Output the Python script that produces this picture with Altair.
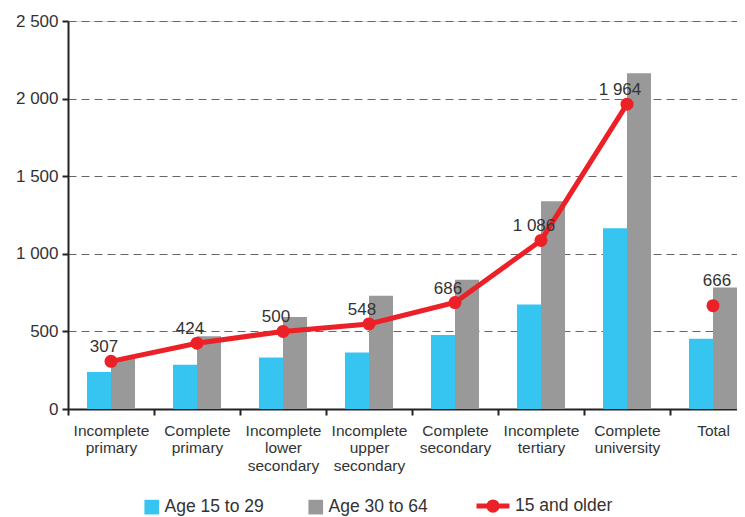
import altair as alt
import pandas as pd

categories = [
    "Incomplete primary",
    "Complete primary",
    "Incomplete lower secondary",
    "Incomplete upper secondary",
    "Complete secondary",
    "Incomplete tertiary",
    "Complete university",
    "Total",
]
age_15_29 = [238, 285, 332, 364, 476, 674, 1165, 453]
age_30_64 = [328, 468, 592, 730, 833, 1339, 2163, 783]
age_15_older = [307, 424, 500, 548, 686, 1086, 1964, 666]
series_names = ["Age 15 to 29", "Age 30 to 64"]
line_name = "15 and older"
y_ticks = [0, 500, 1000, 1500, 2000, 2500]

CYAN = "#36c5f0"
GRAY = "#999999"
RED = "#ec2027"
TEXT = "#333333"
AXIS = "#222222"
FONT = "Liberation Sans"

bars_df = pd.DataFrame(
    [{"category": c, "series": series_names[0], "value": v} for c, v in zip(categories, age_15_29)]
    + [{"category": c, "series": series_names[1], "value": v} for c, v in zip(categories, age_30_64)]
)
line_df = pd.DataFrame({"category": categories, "value": age_15_older, "measure": line_name})

PLOT_W = 669
X_RANGE = 688
PLOT_H = 388

x_enc = alt.X(
    "category:N",
    sort=categories,
    scale=alt.Scale(paddingInner=0, paddingOuter=0, range=[0, X_RANGE]),
    axis=alt.Axis(
        title=None,
        labelAngle=0,
        labelExpr="split(datum.label, ' ')",
        labelFontSize=15.5,
        labelLineHeight=17.5,
        labelColor=TEXT,
        labelFont=FONT,
        labelPadding=8,
        tickBand="extent",
        tickSize=6,
        tickWidth=2,
        tickColor=AXIS,
        domainColor=AXIS,
        domainWidth=2,
        grid=False,
    ),
)
y_enc = alt.Y(
    "value:Q",
    scale=alt.Scale(domain=[0, 2500], nice=False),
    axis=alt.Axis(
        title=None,
        values=y_ticks,
        labelExpr="replace(format(datum.value, ','), ',', ' ')",
        labelFontSize=17,
        labelColor=TEXT,
        labelFont=FONT,
        labelPadding=4,
        tickSize=6,
        tickWidth=2,
        tickColor=AXIS,
        domainColor=AXIS,
        domainWidth=2,
        grid=True,
        gridColor="#666666",
        gridDash=[8, 5],
        gridWidth=1.2,
    ),
)

bars = alt.Chart(bars_df).mark_bar().encode(
    x=x_enc,
    xOffset=alt.XOffset("series:N", sort=series_names,
                        scale=alt.Scale(paddingInner=0, paddingOuter=0.79)),
    y=y_enc,
    fill=alt.Fill(
        "series:N",
        scale=alt.Scale(domain=series_names, range=[CYAN, GRAY]),
        legend=alt.Legend(
            title=None,
            orient="none",
            legendX=75,
            legendY=477,
            direction="horizontal",
            symbolType="square",
            symbolSize=215,
            symbolStrokeWidth=0,
            labelFontSize=17.5,
            labelFont=FONT,
            labelColor=TEXT,
            labelOffset=4,
            columnPadding=43,
            labelLimit=0,
        ),
    ),
)

legend_path = (
    "M-1,0H1"
    "M0.1,0A0.1,0.1,0,1,1,-0.1,0A0.1,0.1,0,1,1,0.1,0"
    "M0.25,0A0.25,0.25,0,1,1,-0.25,0A0.25,0.25,0,1,1,0.25,0"
)

line = alt.Chart(line_df).transform_filter(
    "datum.category != 'Total'"
).mark_line(strokeWidth=5).encode(
    x=alt.X("category:N", sort=categories),
    y=alt.Y("value:Q"),
    stroke=alt.Stroke(
        "measure:N",
        scale=alt.Scale(domain=[line_name], range=[RED]),
        legend=alt.Legend(
            title=None,
            orient="none",
            legendX=406,
            legendY=466,
            direction="horizontal",
            symbolType=legend_path,
            symbolSize=1089,
            symbolStrokeWidth=5,
            symbolStrokeColor=RED,
            labelFontSize=17.5,
            labelFont=FONT,
            labelColor=TEXT,
            labelOffset=3,
            labelLimit=0,
        ),
    ),
)

points = alt.Chart(line_df).mark_circle(size=169, color=RED, opacity=1).encode(
    x=alt.X("category:N", sort=categories),
    y=alt.Y("value:Q"),
)

labels_line = alt.Chart(line_df).transform_filter(
    "datum.category != 'Total'"
).transform_calculate(
    txt="replace(format(datum.value, ','), ',', ' ')"
).mark_text(
    fontSize=17, font=FONT, color=TEXT, baseline="alphabetic", align="center", dx=-7, dy=-9
).encode(
    x=alt.X("category:N", sort=categories),
    y=alt.Y("value:Q"),
    text="txt:N",
)

labels_total = alt.Chart(line_df).transform_filter(
    "datum.category == 'Total'"
).transform_calculate(
    txt="replace(format(datum.value, ','), ',', ' ')"
).mark_text(
    fontSize=17, font=FONT, color=TEXT, baseline="alphabetic", align="center", dx=4, dy=-20
).encode(
    x=alt.X("category:N", sort=categories),
    y=alt.Y("value:Q"),
    text="txt:N",
)

chart = alt.layer(bars, line, points, labels_line, labels_total).properties(
    width=PLOT_W,
    height=PLOT_H,
    autosize=alt.AutoSizeParams(type="none"),
    padding={"left": 60, "top": 13, "right": 0, "bottom": 108},
).configure_view(stroke=None).configure(font=FONT)

chart.save("out.html", embed_options={"renderer": "svg", "actions": False})
